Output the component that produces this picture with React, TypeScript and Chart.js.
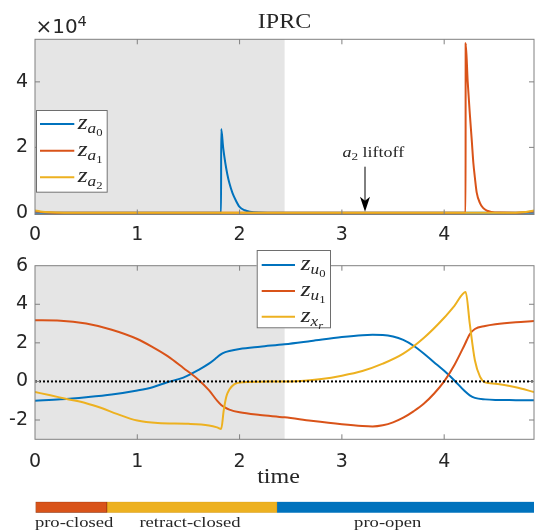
import React, { useEffect, useRef } from "react";
import { Chart, registerables } from "chart.js";
Chart.register(...registerables);

// ---------------- data ----------------
const X_MIN = 0;
const X_MAX = 4.878;
const X_TICKS = [0, 1, 2, 3, 4];
const SHADE_END = 2.44;

// top panel (values in raw units, axis shows x10^4)
const TOP_Y_MIN = -500;
const TOP_Y_MAX = 53000;
const TOP_Y_TICKS = [0, 20000, 40000];

const tA0 = [0, 1.0, 1.819, 1.82, 1.84, 1.86, 1.88, 1.9, 1.93, 1.96, 2.0, 2.05, 2.1, 2.2, 2.4, 3.0, 4.878];
const zA0 = [0, 0, 0, 25600, 19800, 15300, 11800, 9100, 6100, 4000, 1800, 800, 350, 100, 20, 0, 0];

const tA1 = [0, 0.08, 0.2, 0.4, 4.209, 4.21, 4.23, 4.25, 4.27, 4.285, 4.3, 4.318, 4.35, 4.38, 4.42, 4.46, 4.55, 4.7, 4.8, 4.878];
const zA1 = [400, 200, 60, 10, 0, 51800, 40000, 30500, 22000, 15300, 10800, 6200, 3000, 1500, 650, 300, 100, 60, 150, 400];

const tA2 = [0, 0.05, 0.15, 0.3, 0.6, 4.5, 4.7, 4.8, 4.878];
const zA2 = [700, 450, 180, 50, 0, 0, 60, 250, 700];

const LIFTOFF_T = 3.226;

// bottom panel
const BOT_Y_MIN = -3;
const BOT_Y_MAX = 6;
const BOT_Y_TICKS = [-2, 0, 2, 4, 6];

const tU = [0, 0.25, 0.5, 0.75, 1.0, 1.15, 1.3, 1.45, 1.6, 1.7, 1.78, 1.82, 1.86, 1.9, 2.0, 2.2, 2.44, 2.7, 3.0, 3.2, 3.3, 3.4, 3.5, 3.6, 3.7, 3.8, 3.9, 4.0, 4.1, 4.2, 4.25, 4.3, 4.4, 4.5, 4.7, 4.878];
const zU0 = [-1.0, -0.93, -0.82, -0.68, -0.47, -0.3, -0.03, 0.2, 0.6, 0.92, 1.25, 1.42, 1.52, 1.58, 1.68, 1.8, 1.93, 2.1, 2.3, 2.4, 2.42, 2.41, 2.33, 2.15, 1.85, 1.45, 1.0, 0.55, 0.05, -0.5, -0.72, -0.85, -0.93, -0.96, -0.97, -0.98];
const zU1 = [3.17, 3.15, 3.0, 2.68, 2.2, 1.78, 1.3, 0.7, 0.08, -0.45, -1.0, -1.22, -1.36, -1.46, -1.6, -1.74, -1.86, -2.04, -2.22, -2.31, -2.33, -2.27, -2.12, -1.88, -1.55, -1.16, -0.64, 0.0, 0.85, 1.9, 2.45, 2.72, 2.87, 2.96, 3.07, 3.13];

const tXr = [0, 0.15, 0.3, 0.5, 0.65, 0.8, 1.0, 1.2, 1.5, 1.7, 1.78, 1.82, 1.845, 1.87, 1.9, 1.95, 2.0, 2.2, 2.5, 2.8, 3.0, 3.2, 3.4, 3.6, 3.8, 4.0, 4.1, 4.21, 4.25, 4.3, 4.35, 4.4, 4.5, 4.7, 4.878];
const zXr = [-0.55, -0.72, -0.9, -1.13, -1.38, -1.68, -2.03, -2.16, -2.2, -2.28, -2.38, -2.46, -1.5, -0.8, -0.42, -0.14, -0.05, -0.01, 0.0, 0.13, 0.3, 0.54, 0.92, 1.44, 2.25, 3.3, 3.92, 4.64, 3.0, 1.1, 0.25, -0.05, -0.12, -0.3, -0.55];

const ZERO_T = [X_MIN, X_MAX];
const ZERO_V = [0, 0];

// phase bar
const PHASE_NAMES = ["pro-closed", "retract-closed", "pro-open"];
const PHASE_START = [0, 0.7, 2.363];
const PHASE_END = [0.7, 2.363, 4.878];
const PHASE_LABEL_T = [0.378, 1.512, 3.446];

// ---------------- styles ----------------
const W = 535;
const H = 530;
const C_BLUE = "#0072BD";
const C_ORANGE = "#D95319";
const C_YELLOW = "#EDB120";
const PHASE_COLORS = [C_ORANGE, C_YELLOW, C_BLUE];
const PHASE_BORDERS = ["#9a3a12", "#dca21c", C_BLUE];
const SHADE = "#e5e5e5";
const FRAME = "#808080";
const TEXT = "#262626";
const SERIF = '"Liberation Serif", "Times New Roman", serif';
const SANS = '"DejaVu Sans", sans-serif';
const SX = 1.2; // horizontal stretch of the reference's text

const TOP_AREA = { left: 35, right: 534, top: 39.3, bottom: 214.5 };
const BOT_AREA = { left: 35, right: 534, top: 265.7, bottom: 439.3 };
const BAR_AREA = { left: 35.5, right: 534, top: 501.7, bottom: 512.7 };

type Run = { t: string; font: string; dy?: number };

function drawRuns(ctx: CanvasRenderingContext2D, runs: Run[], x: number, y: number, align: "left" | "center", sx = SX) {
  ctx.save();
  ctx.textBaseline = "alphabetic";
  ctx.textAlign = "left";
  let total = 0;
  for (const r of runs) {
    ctx.font = r.font;
    total += ctx.measureText(r.t).width * sx;
  }
  let cx = align === "center" ? x - total / 2 : x;
  for (const r of runs) {
    ctx.font = r.font;
    const w = ctx.measureText(r.t).width * sx;
    ctx.save();
    ctx.translate(cx, y + (r.dy || 0));
    ctx.scale(sx, 1);
    ctx.fillText(r.t, 0, 0);
    ctx.restore();
    cx += w;
  }
  ctx.restore();
}

function pts(t: number[], v: number[]) {
  return t.map((x, i) => ({ x, y: v[i] }));
}

const shadePlugin = {
  id: "shade",
  beforeDatasetsDraw(chart: any) {
    const { ctx, chartArea: a, scales } = chart;
    const xe = scales.x.getPixelForValue(SHADE_END);
    ctx.save();
    ctx.fillStyle = SHADE;
    ctx.fillRect(a.left, a.top, xe - a.left, a.bottom - a.top);
    ctx.restore();
  },
};

function framePlugin(yTicks: number[]) {
  return {
    id: "frame",
    afterDatasetsDraw(chart: any) {
      const { ctx, chartArea: a, scales } = chart;
      ctx.save();
      ctx.strokeStyle = FRAME;
      ctx.lineWidth = 1;
      ctx.strokeRect(a.left, a.top, a.right - a.left, a.bottom - a.top);
      ctx.beginPath();
      const L = 5;
      for (const v of X_TICKS) {
        const px = scales.x.getPixelForValue(v);
        if (px <= a.left + 1 || px >= a.right - 1) continue;
        ctx.moveTo(px, a.bottom);
        ctx.lineTo(px, a.bottom - L);
        ctx.moveTo(px, a.top);
        ctx.lineTo(px, a.top + L);
      }
      for (const v of yTicks) {
        const py = scales.y.getPixelForValue(v);
        if (py <= a.top + 1 || py >= a.bottom - 1) continue;
        ctx.moveTo(a.left, py);
        ctx.lineTo(a.left + L, py);
        ctx.moveTo(a.right, py);
        ctx.lineTo(a.right - L, py);
      }
      ctx.stroke();
      ctx.restore();
    },
  };
}

type LegendSpec = {
  box: { x0: number; y0: number; x1: number; y1: number };
  rows: number[];
  lineX: [number, number];
  textX: number;
  colors: string[];
  subs: string[];
  subsubs: string[];
  subsubItalic: boolean[];
};

function legendPlugin(spec: LegendSpec) {
  return {
    id: "mlegend",
    afterDraw(chart: any) {
      const { ctx } = chart;
      const b = spec.box;
      ctx.save();
      ctx.fillStyle = "#ffffff";
      ctx.fillRect(b.x0, b.y0, b.x1 - b.x0, b.y1 - b.y0);
      ctx.strokeStyle = "#6e6e6e";
      ctx.lineWidth = 1;
      ctx.strokeRect(b.x0 + 0.5, b.y0 + 0.5, b.x1 - b.x0 - 1, b.y1 - b.y0 - 1);
      ctx.lineWidth = 2;
      spec.rows.forEach((ry, i) => {
        ctx.strokeStyle = spec.colors[i];
        ctx.beginPath();
        ctx.moveTo(spec.lineX[0], ry);
        ctx.lineTo(spec.lineX[1], ry);
        ctx.stroke();
        ctx.fillStyle = TEXT;
        drawRuns(
          ctx,
          [
            { t: "z", font: `italic 22px ${SERIF}` },
            { t: spec.subs[i], font: `italic 15px ${SERIF}`, dy: 4 },
            { t: spec.subsubs[i], font: `${spec.subsubItalic[i] ? "italic " : ""}11px ${SERIF}`, dy: 7 },
          ],
          spec.textX,
          ry + 5,
          "left",
          1.15
        );
      });
      ctx.restore();
    },
  };
}

const topTextPlugin = {
  id: "toptext",
  afterDraw(chart: any) {
    const { ctx, chartArea: a, scales } = chart;
    ctx.save();
    ctx.fillStyle = TEXT;
    // title
    drawRuns(ctx, [{ t: "IPRC", font: `20px ${SERIF}` }], (a.left + a.right) / 2, 28.3, "center");
    // exponent
    drawRuns(
      ctx,
      [
        { t: "\u00d710", font: `19px ${SANS}` },
        { t: "4", font: `14px ${SANS}`, dy: -7 },
      ],
      a.left + 0.5,
      33,
      "left",
      1.05
    );
    // annotation
    const ax = scales.x.getPixelForValue(LIFTOFF_T);
    drawRuns(
      ctx,
      [
        { t: "a", font: `italic 15px ${SERIF}` },
        { t: "2", font: `11px ${SERIF}`, dy: 3 },
        { t: " liftoff", font: `15px ${SERIF}` },
      ],
      ax - 22.5,
      156.5,
      "left"
    );
    const tipY = scales.y.getPixelForValue(0) - 1;
    ctx.strokeStyle = "#000";
    ctx.lineWidth = 1;
    ctx.beginPath();
    ctx.moveTo(ax, 166.7);
    ctx.lineTo(ax, tipY - 10);
    ctx.stroke();
    ctx.fillStyle = "#000";
    ctx.beginPath();
    ctx.moveTo(ax, tipY);
    ctx.lineTo(ax - 5, tipY - 15);
    ctx.lineTo(ax, tipY - 11);
    ctx.lineTo(ax + 5, tipY - 15);
    ctx.closePath();
    ctx.fill();
    ctx.restore();
  },
};

const botTextPlugin = {
  id: "bottext",
  afterDraw(chart: any) {
    const { ctx, chartArea: a } = chart;
    ctx.save();
    ctx.fillStyle = TEXT;
    drawRuns(ctx, [{ t: "time", font: `20px ${SERIF}` }], (a.left + a.right) / 2 - 6, 482.5, "center");
    ctx.restore();
  },
};

const phaseLabelPlugin = {
  id: "phaselabels",
  afterDraw(chart: any) {
    const { ctx, scales } = chart;
    ctx.save();
    ctx.fillStyle = TEXT;
    PHASE_NAMES.forEach((n, i) => {
      drawRuns(ctx, [{ t: n, font: `15.5px ${SERIF}` }], scales.x.getPixelForValue(PHASE_LABEL_T[i]), 526.5, "center");
    });
    ctx.restore();
  },
};

function panelOptions(
  area: { left: number; right: number; top: number; bottom: number },
  yMin: number,
  yMax: number,
  yTicks: number[],
  yFmt: (v: number) => string,
  xAxisH: number,
  xPad: number
): any {
  const tickFont = { family: SANS, size: 19 };
  return {
    animation: false,
    responsive: false,
    maintainAspectRatio: false,
    events: [],
    layout: { padding: { left: 0, right: W - area.right, top: area.top, bottom: H - area.bottom - xAxisH } },
    elements: { point: { radius: 0 }, line: { borderWidth: 2 } },
    plugins: { legend: { display: false }, tooltip: { enabled: false }, title: { display: false } },
    scales: {
      x: {
        type: "linear",
        min: X_MIN,
        max: X_MAX,
        grid: { display: false, drawTicks: false },
        border: { display: false },
        afterBuildTicks: (s: any) => {
          s.ticks = X_TICKS.map((v) => ({ value: v }));
        },
        afterFit: (s: any) => {
          s.height = xAxisH;
        },
        ticks: { font: tickFont, color: TEXT, padding: xPad, maxRotation: 0, autoSkip: false, callback: (v: any) => String(v) },
      },
      y: {
        type: "linear",
        min: yMin,
        max: yMax,
        grid: { display: false, drawTicks: false },
        border: { display: false },
        afterBuildTicks: (s: any) => {
          s.ticks = yTicks.map((v) => ({ value: v }));
        },
        afterFit: (s: any) => {
          s.width = area.left;
        },
        ticks: { font: tickFont, color: TEXT, padding: 7, autoSkip: false, callback: (v: any) => yFmt(Number(v)) },
      },
    },
  };
}

function lineDs(label: string, data: any[], color: string, order: number, extra: any = {}) {
  return {
    label,
    data,
    borderColor: color,
    backgroundColor: color,
    borderWidth: 2,
    pointRadius: 0,
    fill: false,
    order,
    cubicInterpolationMode: "monotone",
    ...extra,
  };
}

export default function App() {
  const topRef = useRef<HTMLCanvasElement>(null);
  const botRef = useRef<HTMLCanvasElement>(null);
  const barRef = useRef<HTMLCanvasElement>(null);

  useEffect(() => {
    const charts: Chart[] = [];

    const topLegend = legendPlugin({
      box: { x0: 36, y0: 110, x1: 107.7, y1: 192.7 },
      rows: [124, 150.7, 177.3],
      lineX: [40, 74.3],
      textX: 77.7,
      colors: [C_BLUE, C_ORANGE, C_YELLOW],
      subs: ["a", "a", "a"],
      subsubs: ["0", "1", "2"],
      subsubItalic: [false, false, false],
    });
    const botLegend = legendPlugin({
      box: { x0: 256.7, y0: 250, x1: 331, y1: 328.3 },
      rows: [265, 291, 316.7],
      lineX: [261.7, 295],
      textX: 300.7,
      colors: [C_BLUE, C_ORANGE, C_YELLOW],
      subs: ["u", "u", "x"],
      subsubs: ["0", "1", "r"],
      subsubItalic: [false, false, true],
    });

    if (topRef.current) {
      charts.push(
        new Chart(topRef.current, {
          type: "line",
          data: {
            datasets: [
              lineDs("z_a0", pts(tA0, zA0), C_BLUE, 2),
              lineDs("z_a1", pts(tA1, zA1), C_ORANGE, 1),
              lineDs("z_a2", pts(tA2, zA2), C_YELLOW, 0),
            ],
          } as any,
          options: panelOptions(TOP_AREA, TOP_Y_MIN, TOP_Y_MAX, TOP_Y_TICKS, (v) => String(v / 10000), 35.5, 9.5),
          plugins: [shadePlugin, framePlugin(TOP_Y_TICKS), topLegend, topTextPlugin] as any,
        })
      );
    }

    if (botRef.current) {
      charts.push(
        new Chart(botRef.current, {
          type: "line",
          data: {
            datasets: [
              lineDs("z_u0", pts(tU, zU0), C_BLUE, 3),
              lineDs("z_u1", pts(tU, zU1), C_ORANGE, 2),
              lineDs("z_xr", pts(tXr, zXr), C_YELLOW, 1),
              lineDs("zero", pts(ZERO_T, ZERO_V), "#000000", 0, { borderDash: [2, 2], cubicInterpolationMode: "default" }),
            ],
          } as any,
          options: panelOptions(BOT_AREA, BOT_Y_MIN, BOT_Y_MAX, BOT_Y_TICKS, (v) => String(v), 50.7, 11.5),
          plugins: [shadePlugin, framePlugin(BOT_Y_TICKS), botLegend, botTextPlugin] as any,
        })
      );
    }

    if (barRef.current) {
      charts.push(
        new Chart(barRef.current, {
          type: "bar",
          data: {
            labels: [""],
            datasets: PHASE_NAMES.map((n, i) => ({
              label: n,
              data: [[PHASE_START[i], PHASE_END[i]]],
              backgroundColor: PHASE_COLORS[i],
              borderColor: PHASE_BORDERS[i],
              borderWidth: 1,
              borderSkipped: false,
              barPercentage: 1,
              categoryPercentage: 1,
              grouped: false,
            })),
          } as any,
          options: {
            animation: false,
            responsive: false,
            maintainAspectRatio: false,
            events: [],
            indexAxis: "y",
            layout: { padding: { left: BAR_AREA.left, right: W - BAR_AREA.right, top: BAR_AREA.top, bottom: H - BAR_AREA.bottom } },
            plugins: { legend: { display: false }, tooltip: { enabled: false } },
            scales: {
              x: { type: "linear", min: X_MIN, max: X_MAX, display: false },
              y: { type: "category", display: false },
            },
          } as any,
          plugins: [phaseLabelPlugin] as any,
        })
      );
    }

    return () => charts.forEach((c) => c.destroy());
  }, []);

  const cs: React.CSSProperties = { position: "absolute", left: 0, top: 0, width: W, height: H };
  return (
    <div style={{ position: "absolute", left: 0, top: 0, width: W, height: H, background: "#ffffff" }}>
      <canvas ref={barRef} width={W} height={H} style={cs} />
      <canvas ref={botRef} width={W} height={H} style={cs} />
      <canvas ref={topRef} width={W} height={H} style={cs} />
    </div>
  );
}
